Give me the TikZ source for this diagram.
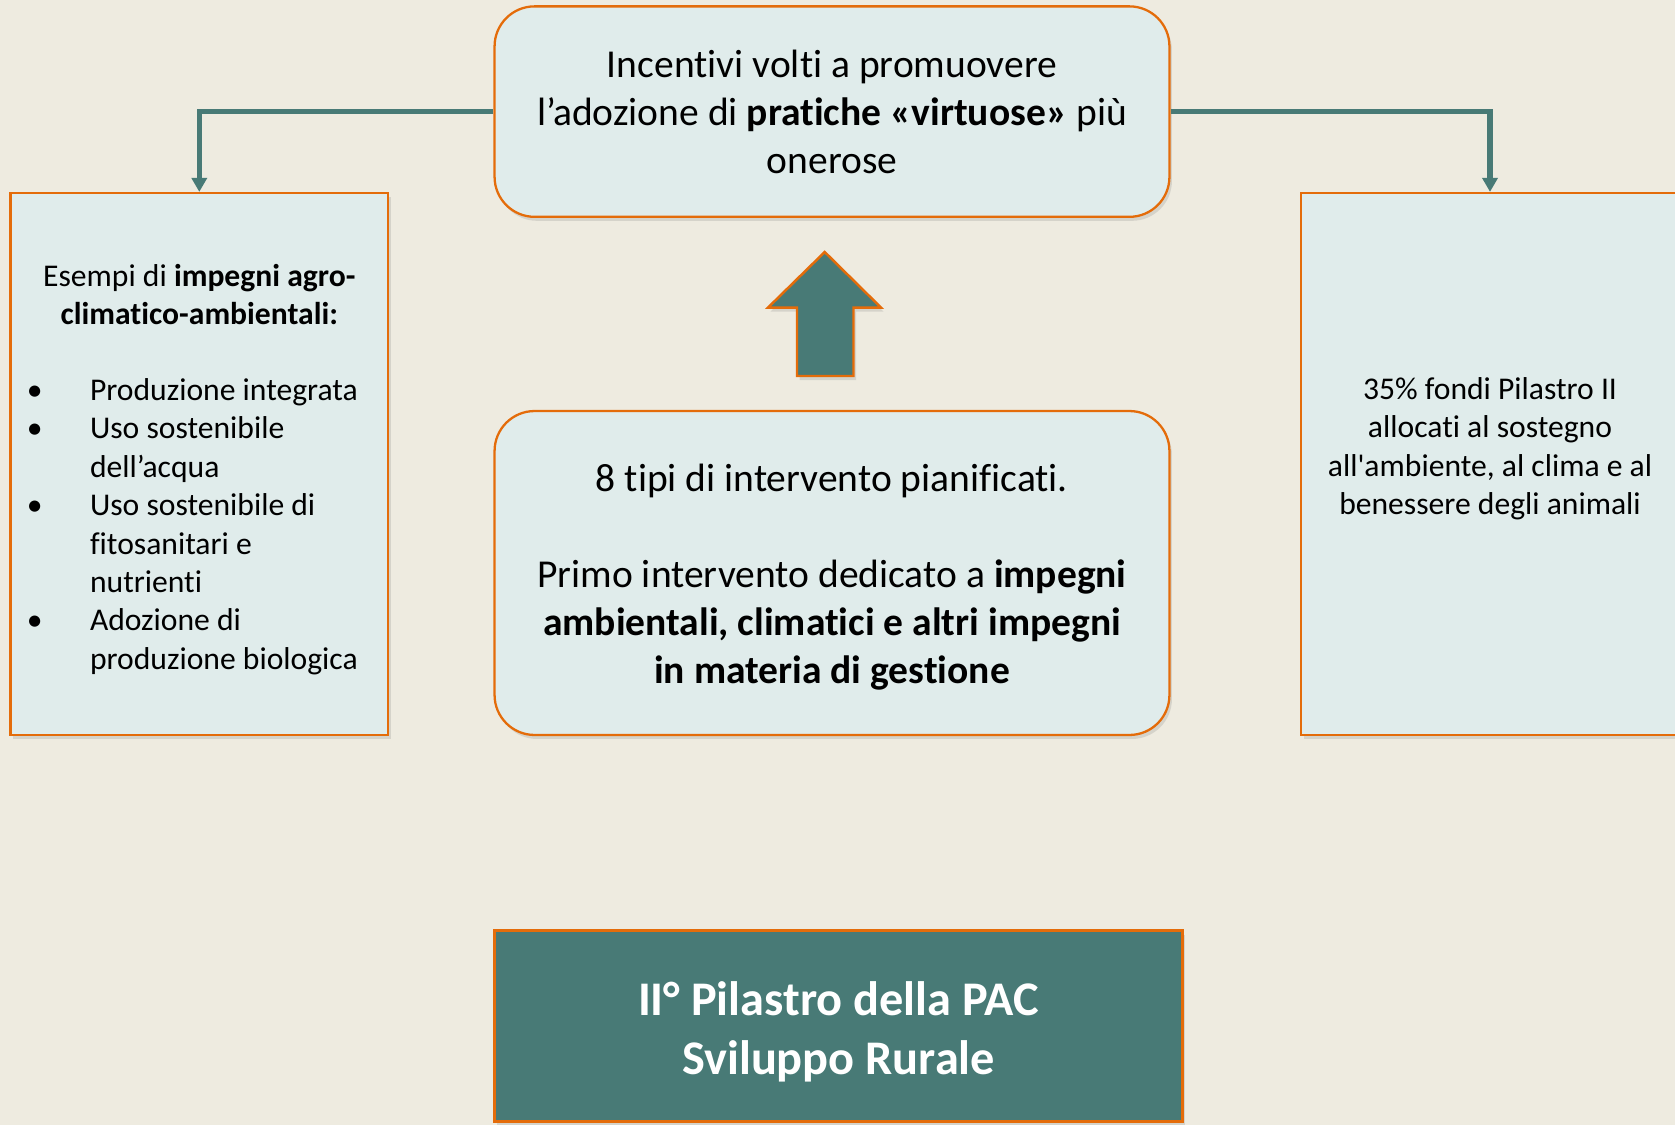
\documentclass[tikz,border=0pt]{standalone}
\usepackage{fontspec}
\setmainfont[Ligatures=TeX, RawFeature={-liga;-clig;-dlig}]{Carlito}
\usetikzlibrary{arrows.meta,shadows}

\definecolor{sfondo}{HTML}{EEEBE0}
\definecolor{azzurro}{HTML}{E0ECEB}
\definecolor{arancio}{HTML}{E46C0A}
\definecolor{petrolio}{HTML}{487A76}

\begin{document}
\begin{tikzpicture}[x=0.02cm,y=-0.02cm]
	\tikzset{ombra/.style={drop shadow={opacity=0.22, shadow xshift=0.05cm, shadow yshift=-0.08cm}}}
	\tikzset{riquadro/.style={draw=arancio, line width=1.3pt, fill=azzurro, ombra, inner sep=0pt}}
	\tikzset{tondo/.style={riquadro, rounded corners=0.8cm, minimum width=13.5cm}}
	\tikzset{laterale/.style={riquadro, minimum width=7.55cm, minimum height=10.84cm}}
	\tikzset{collega/.style={draw=petrolio, line width=3pt, -{Triangle[width=0.3cm,length=0.28cm]}}}
	\tikzset{testo/.style={font=\fontsize{22.5}{27.3}\selectfont, align=center}}
	\tikzset{piccolo/.style={font=\fontsize{18}{21.9}\selectfont, inner sep=0pt}}

	% sfondo e margini
	\clip (0,0) rectangle (1675,1125);
	\fill[sfondo] (0,0) rectangle (1675,1125);

	% riquadri in alto
	\node[tondo, minimum height=4.21cm, testo] (incentivi) at (832,111.6)
		{Incentivi volti a promuovere\\ l’adozione di \textbf{pratiche «virtuose»} più\\ onerose};
	\node[laterale] (esempi) at (199.3,464) {};
	\node[laterale] (fondi) at (1490,464) {};

	% testi dei riquadri laterali
	\node[piccolo, align=center] (titoloesempi) at (199.3,294.5)
		{Esempi di \textbf{impegni agro-}\\ \textbf{climatico-ambientali:}};
	\node[piccolo, align=left, anchor=west] (elenco) at (89.7,526.5)
		{\llap{\textbullet\hspace{0.95cm}}Produzione integrata\\
		 \llap{\textbullet\hspace{0.95cm}}Uso sostenibile\\ dell’acqua\\
		 \llap{\textbullet\hspace{0.95cm}}Uso sostenibile di\\ fitosanitari e\\ nutrienti\\
		 \llap{\textbullet\hspace{0.95cm}}Adozione di\\ produzione biologica};
	\node[piccolo, align=center] (testofondi) at (1490,448.5)
		{35\% fondi Pilastro II\\ allocati al sostegno\\ all\textquotesingle ambiente, al clima e al\\ benessere degli animali};

	% interventi
	\node[tondo, minimum height=6.48cm] (interventi) at (832,573) {};
	\node[testo, inner sep=0pt] (testointerventi) at (832,577.5)
		{8 tipi di intervento pianificati.\\ \mbox{}\\ Primo intervento dedicato a \textbf{impegni}\\
		 \textbf{ambientali, climatici e altri impegni}\\ \textbf{in materia di gestione}};

	% freccia grande
	\draw[arancio, fill=petrolio, line width=1.4pt, line join=miter, ombra]
		(797,376) -- (797,307.6) -- (768,307.6) -- (824.7,252) -- (881,307.6)
		-- (853.5,307.6) -- (853.5,376) -- cycle;

	% pilastro
	\node[draw=arancio, line width=1.3pt, fill=petrolio, ombra, minimum width=13.76cm,
		minimum height=3.82cm] (pilastro) at (838.5,1026) {};
	\node[text=white, align=center, inner sep=0pt,
		font=\fontsize{27.5}{33.4}\selectfont\bfseries] (testopilastro) at (838.5,1031.5)
		{II° Pilastro della PAC\\ Sviluppo Rurale};

	% collegamenti
	\draw[collega] (incentivi.west) -| (esempi.north);
	\draw[collega] (incentivi.east) -| (fondi.north);
\end{tikzpicture}
\end{document}
